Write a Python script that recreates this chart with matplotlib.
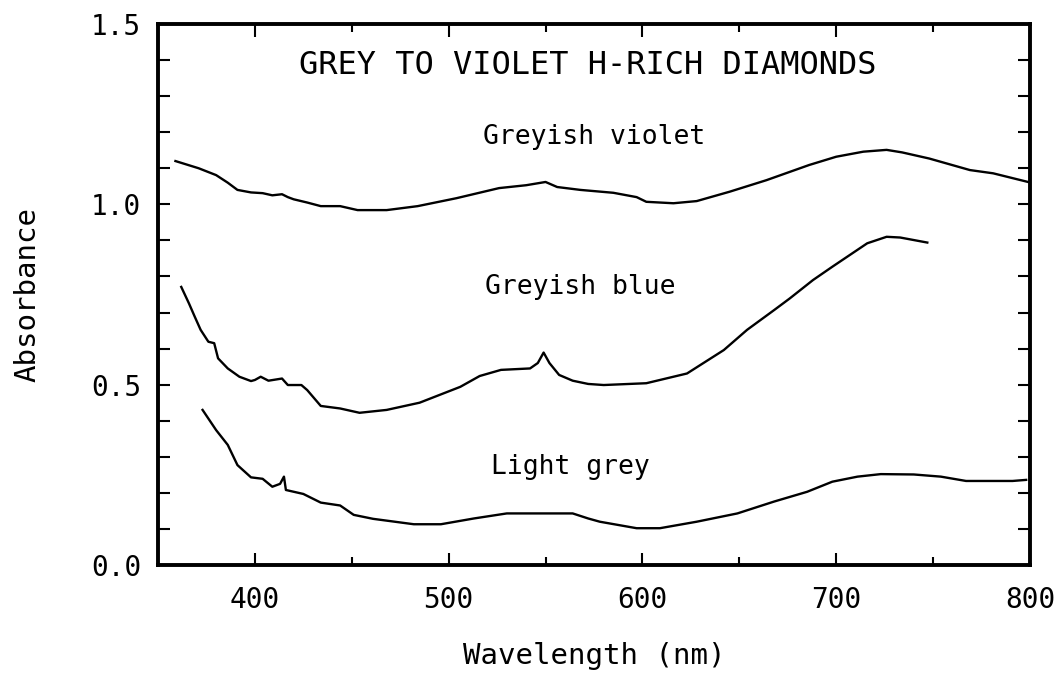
import matplotlib
matplotlib.use("Agg")
import matplotlib.pyplot as plt
from matplotlib.ticker import MultipleLocator

# absorption spectra
violet_nm = [359, 371, 380, 386, 391, 398, 404, 409, 414, 417, 420, 427, 434, 444, 453, 468, 484,
             504, 526, 540, 550, 556, 568, 585, 597, 602, 616, 628, 645, 664, 686, 700, 714, 726,
             734, 748, 769, 781, 799]
violet_abs = [1.12, 1.10, 1.081, 1.06, 1.040, 1.033, 1.031, 1.025, 1.028, 1.020, 1.014, 1.005, 0.995,
              0.995, 0.984, 0.984, 0.995, 1.017, 1.045, 1.053, 1.062, 1.048, 1.040, 1.032, 1.020,
              1.007, 1.003, 1.009, 1.035, 1.067, 1.109, 1.132, 1.146, 1.151, 1.144, 1.127, 1.095,
              1.086, 1.062]

blue_nm = [362, 366, 369, 372, 376, 379, 381, 386, 392, 398, 400, 403, 407, 414, 417, 424, 427, 434,
           444, 454, 468, 485, 506, 516, 527, 542, 546, 549, 552, 557, 564, 572, 580, 602, 623, 642,
           654, 668, 676, 688, 698, 716, 726, 733, 747]
blue_abs = [0.771, 0.725, 0.688, 0.652, 0.619, 0.615, 0.573, 0.545, 0.522, 0.510, 0.513, 0.522, 0.511,
            0.517, 0.499, 0.499, 0.485, 0.441, 0.434, 0.422, 0.430, 0.450, 0.494, 0.524, 0.541, 0.545,
            0.560, 0.589, 0.560, 0.527, 0.511, 0.502, 0.499, 0.504, 0.531, 0.596, 0.652, 0.707, 0.739,
            0.790, 0.827, 0.892, 0.910, 0.908, 0.894]

grey_nm = [373, 380, 386, 391, 398, 404, 409, 413, 415, 416, 425, 434, 444, 451, 461, 482, 496, 513,
           530, 547, 564, 572, 578, 597, 609, 628, 649, 668, 685, 698, 711, 723, 740, 754, 767, 791,
           798]
grey_abs = [0.430, 0.374, 0.333, 0.277, 0.243, 0.239, 0.217, 0.225, 0.245, 0.208, 0.197, 0.173, 0.165,
            0.139, 0.128, 0.113, 0.113, 0.129, 0.143, 0.143, 0.143, 0.129, 0.120, 0.102, 0.102, 0.120,
            0.143, 0.176, 0.203, 0.231, 0.245, 0.252, 0.251, 0.245, 0.233, 0.233, 0.236]

labels = ["Greyish violet", "Greyish blue", "Light grey"]
label_x = [575, 568, 563]
label_y = [1.187, 0.771, 0.272]

mono = "DejaVu Sans Mono"

fig = plt.figure(figsize=(10.62, 6.76), dpi=100)
ax = fig.add_axes([158 / 1062, 1 - 565 / 676, (1030 - 158) / 1062, (565 - 24) / 676])

for xs, ys in [(violet_nm, violet_abs), (blue_nm, blue_abs), (grey_nm, grey_abs)]:
    ax.plot(xs, ys, color="black", lw=1.7)

for t, x, y in zip(labels, label_x, label_y):
    ax.text(x, y, t, ha="center", va="center", fontsize=19, family=mono)
ax.text(572, 1.386, "GREY TO VIOLET H-RICH DIAMONDS", ha="center", va="center",
        fontsize=23, family=mono)

ax.set_xlim(350, 800)
ax.set_ylim(0, 1.5)
ax.xaxis.set_major_locator(MultipleLocator(100))
ax.xaxis.set_minor_locator(MultipleLocator(50))
ax.yaxis.set_major_locator(MultipleLocator(0.5))
ax.yaxis.set_minor_locator(MultipleLocator(0.1))
ax.yaxis.set_major_formatter(matplotlib.ticker.FormatStrFormatter("%.1f"))

ax.tick_params(axis="x", which="major", direction="in", length=9, width=1.5, top=True, pad=15)
ax.tick_params(axis="x", which="minor", direction="in", length=5.5, width=1.5, top=True)
ax.tick_params(axis="y", which="both", direction="in", length=8.5, width=1.5, right=True, pad=12)
for lab in ax.get_xticklabels() + ax.get_yticklabels():
    lab.set_fontfamily(mono)
    lab.set_fontsize(20)
for s in ax.spines.values():
    s.set_linewidth(2.8)

ax.set_xlabel("Wavelength (nm)", fontsize=21, family=mono, labelpad=20)
ax.set_ylabel("Absorbance", fontsize=21, family=mono, labelpad=36)

fig.savefig("out.png", dpi=100)
